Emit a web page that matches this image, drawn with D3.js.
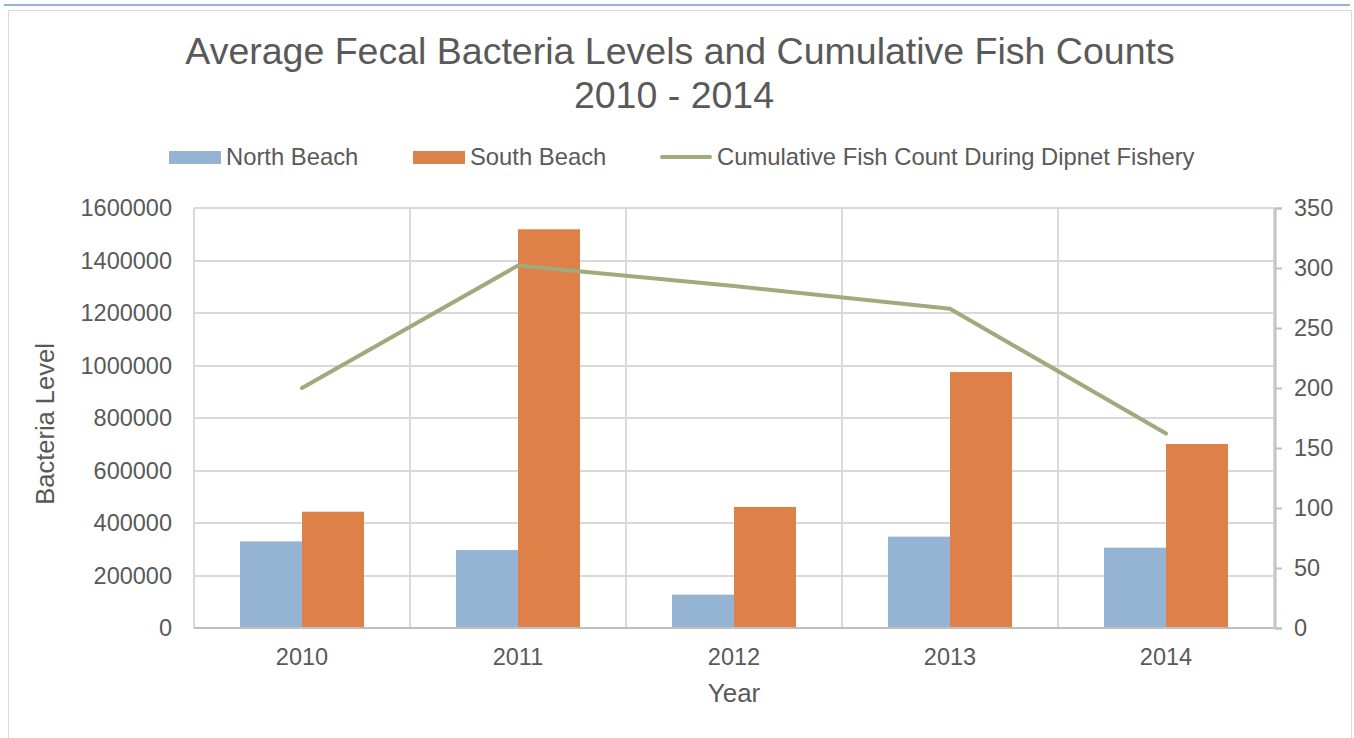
<!DOCTYPE html>
<html>
<head>
<meta charset="utf-8">
<script src="https://cdn.jsdelivr.net/npm/d3@7"></script>
<style>
  body { margin: 0; background: #fff; }
  text { font-family: "Liberation Sans", Arial, sans-serif; fill: #595959; }
</style>
</head>
<body>
<script>
// data
var years = ["2010", "2011", "2012", "2013", "2014"];
var northBeach = [330000, 297000, 127000, 348000, 306000];
var southBeach = [443000, 1519000, 461000, 975000, 701000];
var fishCount = [200, 302, 285, 266, 162];
var leftTicks = [0, 200000, 400000, 600000, 800000, 1000000, 1200000, 1400000, 1600000];
var rightTicks = [0, 50, 100, 150, 200, 250, 300, 350];

var W = 1354, H = 738;
var plotL = 194, plotR = 1274, plotT = 208, plotB = 628;

var svg = d3.select("body").append("svg")
    .attr("width", W)
    .attr("height", H);

// page bits: blue rule and chart frame
svg.append("line")
    .attr("x1", 4).attr("x2", 1350)
    .attr("y1", 5).attr("y2", 5)
    .style("stroke", "#95b3d7")
    .style("stroke-width", 2);
svg.append("rect")
    .attr("x", 8.5).attr("y", 10.5)
    .attr("width", 1343).attr("height", 740)
    .style("fill", "#fff")
    .style("stroke", "#d9d9d9")
    .style("stroke-width", 1);

var x = d3.scaleBand().domain(years).range([plotL, plotR]);
var xs = d3.scaleBand().domain(["n", "s"]).range([0, 124]);
var y = d3.scaleLinear().domain([0, 1600000]).range([plotB, plotT]);
var y2 = d3.scaleLinear().domain([0, 350]).range([plotB, plotT]);

// horizontal grid
svg.append("g").selectAll("line")
    .data(leftTicks.slice(1))
    .enter().append("line")
    .attr("x1", plotL).attr("x2", plotR)
    .attr("y1", function (d) { return Math.round(y(d)); })
    .attr("y2", function (d) { return Math.round(y(d)); })
    .style("stroke", "#d9d9d9")
    .style("stroke-width", 2);

// vertical grid at category edges
var edges = years.map(function (d) { return x(d); }).concat([plotR]);
svg.append("g").selectAll("line")
    .data(edges)
    .enter().append("line")
    .attr("x1", function (d) { return d; }).attr("x2", function (d) { return d; })
    .attr("y1", plotT).attr("y2", plotB)
    .style("stroke", "#d9d9d9")
    .style("stroke-width", 2);

// bars
var pad = (x.bandwidth() - 124) / 2;
var groups = svg.append("g").selectAll("g")
    .data(years)
    .enter().append("g")
    .attr("transform", function (d) { return "translate(" + (x(d) + pad) + ",0)"; });
groups.append("rect")
    .attr("x", xs("n"))
    .attr("width", xs.bandwidth())
    .attr("y", function (d, i) { return y(northBeach[i]); })
    .attr("height", function (d, i) { return plotB - y(northBeach[i]); })
    .style("fill", "#95b3d2");
groups.append("rect")
    .attr("x", xs("s"))
    .attr("width", xs.bandwidth())
    .attr("y", function (d, i) { return y(southBeach[i]); })
    .attr("height", function (d, i) { return plotB - y(southBeach[i]); })
    .style("fill", "#de8148");

// x axis line
svg.append("line")
    .attr("x1", plotL).attr("x2", plotR)
    .attr("y1", plotB).attr("y2", plotB)
    .style("stroke", "#bfbfbf")
    .style("stroke-width", 2);

// right axis
var rAxis = svg.append("g")
    .attr("transform", "translate(" + (plotR + 1) + ",0)")
    .call(d3.axisRight(y2).tickValues(rightTicks).tickSize(7).tickPadding(12));
rAxis.select(".domain").style("stroke", "#bfbfbf").style("stroke-width", 2);
rAxis.selectAll(".tick line").style("stroke", "#bfbfbf").style("stroke-width", 2);
rAxis.selectAll("text")
    .style("font-size", "23.5px")
    .style("font-family", "'Liberation Sans', Arial, sans-serif")
    .style("fill", "#595959");

// left axis (labels only)
var lAxis = svg.append("g")
    .attr("transform", "translate(" + plotL + ",0)")
    .call(d3.axisLeft(y).tickValues(leftTicks).tickSize(0).tickPadding(22).tickFormat(d3.format("d")));
lAxis.select(".domain").remove();
lAxis.selectAll("text")
    .style("font-size", "23.5px")
    .style("font-family", "'Liberation Sans', Arial, sans-serif")
    .style("fill", "#595959");

// category labels
var bAxis = svg.append("g")
    .attr("transform", "translate(0," + plotB + ")")
    .call(d3.axisBottom(x).tickSize(0).tickPadding(20));
bAxis.select(".domain").remove();
bAxis.selectAll("text")
    .style("font-size", "23.5px")
    .style("font-family", "'Liberation Sans', Arial, sans-serif")
    .style("fill", "#595959");

// fish count line
var line = d3.line()
    .x(function (d, i) { return x(years[i]) + x.bandwidth() / 2; })
    .y(function (d) { return y2(d); });
svg.append("path")
    .datum(fishCount)
    .attr("d", line)
    .style("fill", "none")
    .style("stroke", "#a0aa7c")
    .style("stroke-width", 4)
    .style("stroke-linecap", "round")
    .style("stroke-linejoin", "round");

// titles
svg.append("text")
    .attr("x", 680).attr("y", 64)
    .attr("text-anchor", "middle")
    .style("font-size", "37.5px")
    .text("Average Fecal Bacteria Levels and Cumulative Fish Counts");
svg.append("text")
    .attr("x", 674).attr("y", 108)
    .attr("text-anchor", "middle")
    .style("font-size", "37.5px")
    .text("2010 - 2014");

svg.append("text")
    .attr("transform", "translate(54,424) rotate(-90)")
    .attr("text-anchor", "middle")
    .style("font-size", "25.5px")
    .text("Bacteria Level");
svg.append("text")
    .attr("x", 734).attr("y", 702)
    .attr("text-anchor", "middle")
    .style("font-size", "26px")
    .text("Year");

// legend
var legend = [
    { name: "North Beach", type: "bar", color: "#95b3d2", x: 169 },
    { name: "South Beach", type: "bar", color: "#de8148", x: 413 },
    { name: "Cumulative Fish Count During Dipnet Fishery", type: "line", color: "#a0aa7c", x: 660 }
];
var lg = svg.append("g").selectAll("g")
    .data(legend)
    .enter().append("g")
    .attr("transform", function (d) { return "translate(" + d.x + ",157)"; });
lg.filter(function (d) { return d.type == "bar"; })
    .append("rect")
    .attr("x", 0).attr("y", -6)
    .attr("width", 52).attr("height", 13)
    .style("fill", function (d) { return d.color; });
lg.filter(function (d) { return d.type == "line"; })
    .append("line")
    .attr("x1", 2).attr("x2", 50)
    .style("stroke", function (d) { return d.color; })
    .style("stroke-width", 4)
    .style("stroke-linecap", "round");
lg.append("text")
    .attr("x", 57).attr("y", 8)
    .style("font-size", "23.8px")
    .text(function (d) { return d.name; });
</script>
</body>
</html>
